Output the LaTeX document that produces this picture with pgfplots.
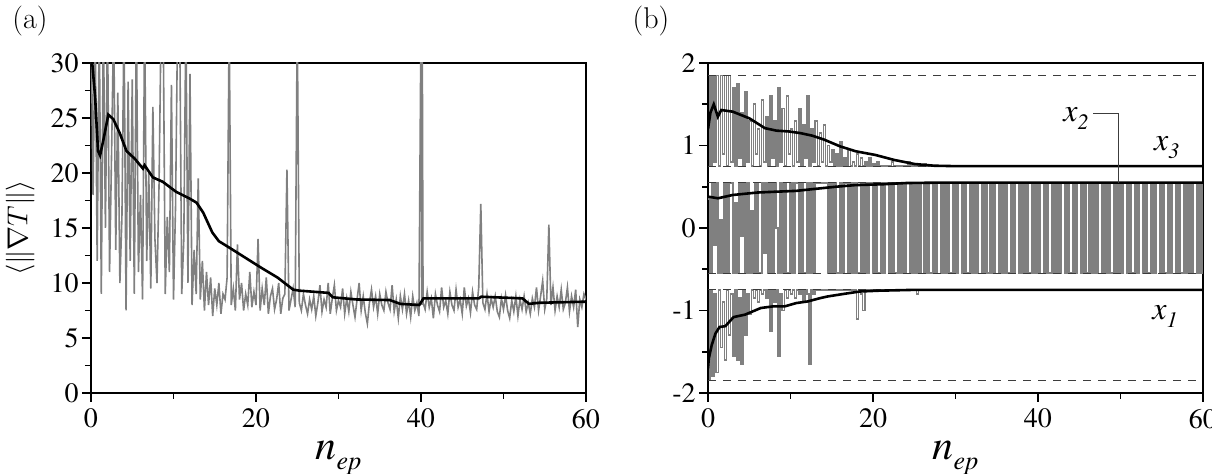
\documentclass[border=0pt]{standalone}
\usepackage{fontspec}
\setmainfont{Liberation Serif}
\newfontfamily\tms{texgyretermes}[Extension=.otf, UprightFont=*-regular, ItalicFont=*-italic, BoldFont=*-bold, BoldItalicFont=*-bolditalic]
\usepackage{pgfplots}
\pgfplotsset{compat=1.18}
\definecolor{lgray}{RGB}{128,128,128}
\definecolor{dgray}{RGB}{60,60,60}
\pgfplotsset{myax/.style={
  scale only axis, width=247.5pt, height=165pt, anchor=south west,
  xmin=0, xmax=60, xtick={0,20,40,60}, minor x tick num=1,
  tick pos=left, tick align=outside,
  axis line style={line width=1.1pt},
  every tick/.style={black, line width=0.8pt},
  major tick length=4.5pt, minor tick length=3pt,
  tick label style={font=\tms\fontsize{14}{16}\selectfont},
  yticklabel style={inner xsep=1.5pt},
  /pgf/number format/assume math mode=true,
  xlabel={\tms\itshape n\raisebox{-0.5ex}{\fontsize{13}{13}\selectfont ep}},
  xlabel style={font=\fontsize{21}{24}\selectfont, at={(axis description cs:0.5,-0.203)}, anchor=base},
}}
\begin{document}
\begin{tikzpicture}[x=1pt,y=1pt]
\path[use as bounding box] (0,0) rectangle (606,237);
\node[font=\fontsize{15}{17}\selectfont] at (15,226.5) {\fontspec{Latin Modern Roman}(a)};
\node[font=\fontsize{15}{17}\selectfont] at (325.5,226.5) {\fontspec{Latin Modern Roman}(b)};
\begin{axis}[myax, at={(45.5pt,40.5pt)},
  ymin=0, ymax=30, ytick={0,5,10,15,20,25,30}, minor y tick num=1,
  ylabel={$\langle\|\nabla T\|\rangle$},
  ylabel style={font=\fontsize{15}{17}\selectfont, at={(axis description cs:-0.143,0.5)}, anchor=center}]
\addplot[lgray, line width=0.8pt] coordinates {(0,35)(0.25,18)(0.5,34)(0.75,12)(1,34)(1.25,9)(1.5,34)(1.75,15)(2,34)(2.25,11)(2.5,22)(2.75,34)(3,13)(3.25,27.3)(3.5,10)(3.75,16)(4,34)(4.25,7.5)(4.5,28.3)(4.75,12)(5,28.5)(5.25,9)(5.5,34)(5.75,11)(6,18)(6.25,8.5)(6.5,34)(6.75,12)(7,20)(7.25,9.5)(7.5,26)(7.75,14)(8,10)(8.25,19)(8.5,34)(8.75,34)(9,9)(9.25,16)(9.5,11)(9.75,28)(10,8.5)(10.25,17)(10.5,34)(10.75,34)(11,9)(11.25,14)(11.5,34)(11.75,10)(12,29)(12.25,8)(12.5,13)(12.75,9)(13,19.5)(13.25,8.5)(13.5,12)(13.75,7.5)(14,11)(14.25,8)(14.5,10.5)(14.75,7)(15,9.5)(15.25,8)(15.5,10)(15.75,7.2)(16,9)(16.25,8.5)(16.5,10.5)(16.75,34)(17,8)(17.25,9.5)(17.5,7.5)(17.75,13.5)(18,8.5)(18.25,10)(18.5,7.5)(18.75,9)(19,8)(19.25,11)(19.5,7.8)(19.75,9.2)(20,8)(20.25,14)(20.5,7.5)(20.75,9.5)(21,8)(21.25,10.5)(21.5,7.2)(21.75,8.8)(22,9.5)(22.25,7.6)(22.5,8.5)(22.75,10)(23,7.2)(23.25,8.6)(23.5,9)(23.75,20.3)(24,7.5)(24.25,8.5)(24.5,9.5)(24.75,7.8)(25,34)(25.25,8.2)(25.5,7.5)(25.75,9)(26,8)(26.25,7.2)(26.5,8.5)(26.75,7.6)(27,8.8)(27.25,7)(27.5,8.2)(27.75,9.8)(28,7.4)(28.25,8.5)(28.5,7.8)(28.75,10)(29,7.2)(29.25,8.6)(29.5,9.8)(29.75,7.5)(30,8.4)(30.25,7.8)(30.5,9.5)(30.75,7.2)(31,8.6)(31.25,7.4)(31.5,9.2)(31.75,8)(32,6.9)(32.25,8.5)(32.5,10)(32.75,7.5)(33,8.8)(33.25,7.3)(33.5,6.3)(33.75,8.2)(34,9.4)(34.25,7.8)(34.5,8.8)(34.75,7.2)(35,9)(35.25,8)(35.5,7.5)(35.75,9.2)(36,8.2)(36.25,7.6)(36.5,9.8)(36.75,7.4)(37,8.5)(37.25,6.8)(37.5,8.8)(37.75,7.6)(38,9)(38.25,7.2)(38.5,8.4)(38.75,6.9)(39,8.8)(39.25,7.5)(39.5,8.2)(39.75,7)(40,34)(40.1,8)(40.15,34)(40.25,8.2)(40.5,7.6)(40.75,9.2)(41,7.8)(41.25,8.6)(41.5,6.8)(41.75,9)(42,8)(42.25,7.4)(42.5,9.6)(42.75,7.8)(43,8.4)(43.25,7.2)(43.5,9.2)(43.75,8)(44,7.5)(44.25,9.4)(44.5,7.8)(44.75,8.5)(45,7.2)(45.25,9.6)(45.5,7.9)(45.75,8.6)(46,7.3)(46.25,9.2)(46.5,8)(46.75,7.6)(47,9.6)(47.25,17.2)(47.5,8.2)(47.75,7.6)(48,9)(48.25,7.4)(48.5,8.6)(48.75,7.8)(49,8.8)(49.25,7.4)(49.5,6.9)(49.75,8.6)(50,7.6)(50.25,8.9)(50.5,7.5)(50.75,6.8)(51,8.4)(51.25,7.4)(51.5,8.8)(51.75,7)(52,8.5)(52.25,7.6)(52.5,8.8)(52.75,7.4)(53,8.2)(53.25,7.2)(53.5,8.6)(53.75,7.8)(54,9.6)(54.25,7.5)(54.5,8.8)(54.75,10.2)(55,7.6)(55.25,8.6)(55.5,15.3)(55.75,8)(56,9.6)(56.25,7.5)(56.5,8.8)(56.75,7.8)(57,9.4)(57.25,7.6)(57.5,8.2)(57.75,9.6)(58,7.4)(58.25,8.8)(58.5,7.8)(58.75,9.4)(59,6)(59.25,8.5)(59.5,7.8)(59.75,9)(60,8.5)};
\addplot[black, line width=1.3pt] coordinates {(0,34)(0.15,30)(0.5,26.9)(0.85,22)(1.1,21.6)(1.5,23)(2.1,25.3)(2.7,24.9)(3.5,23.6)(4.3,22)(5.3,21.3)(6.3,20.4)(6.5,20.7)(7.5,19.6)(8.7,19.2)(10.3,18.3)(11.9,17.7)(12.8,17.3)(13.6,16.4)(14.7,14.6)(15.5,13.8)(16.8,13.2)(18.7,12.3)(20.6,11.4)(22.6,10.5)(24.5,9.4)(25.3,9.3)(28.8,9.1)(29.3,8.7)(32.2,8.5)(36.2,8.45)(37.5,8.1)(39.8,8.0)(40.3,8.6)(44.2,8.6)(47,8.6)(47.3,8.75)(52.3,8.6)(53.1,8.1)(54.3,8.2)(60,8.3)};
\end{axis}
\begin{axis}[myax, at={(354pt,40.5pt)},
  ymin=-2, ymax=2, ytick={-2,-1,0,1,2}, yticklabels={-2,-1,0,1,2}, minor y tick num=1]
\addplot[lgray, line width=1.1pt, const plot] coordinates {(0,0.35)(0.25,-0.55)(0.5,0.55)(0.75,-0.2)(1,0.55)(1.25,-0.55)(1.5,0.1)(1.75,-0.55)(2,0.55)(2.25,-0.55)(2.5,0.55)(2.75,0.55)(3,-0.55)(3.25,0.3)(3.5,-0.55)(3.75,0.55)(4,-0.1)(4.25,0.55)(4.5,-0.55)(4.75,0.55)(5,-0.55)(5.25,0.2)(5.5,-0.55)(5.75,0.55)(6,-0.55)(6.25,-0.55)(6.5,0.55)(6.75,-0.3)(7,0.55)(7.25,-0.55)(7.5,0.55)(7.75,-0.55)(8,0.55)(8.25,0)(8.5,-0.55)(8.75,0.55)(9,-0.55)(9.25,0.55)(9.5,-0.55)(9.75,-0.55)(10,0.55)(10.25,-0.55)(10.5,0.55)(10.75,0.55)(11,-0.55)(11.25,0.55)(11.5,-0.55)(11.75,-0.55)(12,0.55)(12.25,-0.55)(12.5,0.55)(12.75,-0.55)(13,0.55)(14.25,0.55)(14.5,-0.55)
(14.75,.55)(15,-.55)(15.25,.55)(15.5,-.55)(15.75,-.55)(16,.55)(16.25,-.55)(16.5,.55)(16.75,.55)(17,-.55)(17.25,.55)(17.5,-.55)(17.75,.55)(18,-.55)(18.25,-.55)(18.5,.55)(18.75,-.55)(19,.55)(19.25,-.55)(19.5,.55)
(19.75,.55)(20,-.55)(20.25,.55)(20.5,-.55)(20.75,-.55)(21,.55)(21.25,-.55)(21.5,.55)(21.75,.55)(22,-.55)(22.25,.55)(22.5,-.55)(22.75,-.55)(23,.55)(23.25,-.55)(23.5,.55)(23.75,-.55)(24,.55)(24.25,.55)(24.5,-.55)
(24.75,.55)(25,-.55)(25.25,.55)(25.5,-.55)(25.75,.55)(26,.55)(26.25,-.55)(26.5,.55)(26.75,-.55)(27,-.55)(27.25,.55)(27.5,-.55)(27.75,.55)(28,.55)(28.25,-.55)(28.5,.55)(28.75,-.55)(29,.55)(29.25,-.55)(29.5,-.55)
(29.75,.55)(30,-.55)(30.25,.55)(30.5,.55)(30.75,-.55)(31,.55)(31.25,-.55)(31.5,-.55)(31.75,.55)(32,-.55)(32.25,.55)(32.5,-.55)(32.75,.55)(33,.55)(33.25,-.55)(33.5,.55)(33.75,-.55)(34,-.55)(34.25,.55)(34.5,-.55)
(34.75,.55)(35,.55)(35.25,-.55)(35.5,.55)(35.75,-.55)(36,.55)(36.25,-.55)(36.5,-.55)(36.75,.55)(37,-.55)(37.25,.55)(37.5,.55)(37.75,-.55)(38,.55)(38.25,-.55)(38.5,.55)(38.75,-.55)(39,-.55)(39.25,.55)(39.5,-.55)
(39.75,.55)(40,-.55)(40.25,.55)(40.5,.55)(40.75,-.55)(41,.55)(41.25,-.55)(41.5,-.55)(41.75,.55)(42,-.55)(42.25,.55)(42.5,-.55)(42.75,.55)(43,.55)(43.25,-.55)(43.5,.55)(43.75,-.55)(44,-.55)(44.25,.55)(44.5,-.55)
(44.75,.55)(45,.55)(45.25,-.55)(45.5,.55)(45.75,-.55)(46,-.55)(46.25,.55)(46.5,-.55)(46.75,.55)(47,-.55)(47.25,.55)(47.5,.55)(47.75,-.55)(48,.55)(48.25,-.55)(48.5,.55)(48.75,-.55)(49,-.55)(49.25,.55)(49.5,-.55)
(49.75,.55)(50,-.55)(50.25,.55)(50.5,.55)(50.75,-.55)(51,.55)(51.25,-.55)(51.5,-.55)(51.75,.55)(52,-.55)(52.25,.55)(52.5,.55)(52.75,-.55)(53,.55)(53.25,-.55)(53.5,-.55)(53.75,.55)(54,-.55)(54.25,.55)(54.5,.55)
(54.75,-.55)(55,.55)(55.25,-.55)(55.5,-.55)(55.75,.55)(56,-.55)(56.25,.55)(56.5,.55)(56.75,-.55)(57,.55)(57.25,-.55)(57.5,-.55)(57.75,.55)(58,-.55)(58.25,.55)(58.5,-.55)(58.75,.55)(59,.55)(59.25,-.55)(59.5,.55)(59.75,-.55)(60,.55)};
\addplot[lgray, line width=0.8pt, const plot] coordinates {(0,1.85)(0.25,0.75)(0.5,1.85)(0.75,0.8)(1,1.85)(1.25,0.75)(1.5,1.85)(1.75,0.9)(2,1.85)(2.25,0.75)(2.5,1.85)(2.75,0.8)(3,1.7)(3.25,0.75)(3.5,1.75)(3.75,0.85)(4,1.4)(4.25,0.75)(4.5,1.65)(4.75,0.8)(5,1.3)(5.25,0.75)(5.5,1.5)(5.75,0.9)(6,1.2)(6.25,0.75)(6.5,1.55)(6.75,0.8)(7,1.35)(7.25,0.75)(7.5,1.6)(7.75,0.85)(8,1.3)(8.25,0.75)(8.5,1.7)(8.75,0.8)(9,1.45)(9.25,0.75)(9.5,1.6)(9.75,0.9)(10,1.2)(10.25,0.75)(10.5,1.3)(10.75,0.8)(11,1.45)(11.25,0.75)(11.5,1.25)(11.75,0.85)(12,1.6)(12.25,0.75)(12.5,1.2)(12.75,0.8)(13,1.3)(13.25,0.75)(13.5,1.15)(13.75,0.8)(14,1.25)(14.25,0.75)(14.5,1)(14.75,0.8)(15,0.95)(15.25,0.75)(15.5,0.9)(15.75,0.75)(16,1.05)(16.25,0.75)(16.5,0.85)(16.75,0.75)(17,0.95)(17.25,0.75)(17.5,0.8)(17.75,0.75)(18,0.9)(18.25,0.75)(18.5,0.85)(18.75,0.75)(19,0.8)(19.25,0.75)(19.5,0.85)(19.75,0.75)(20,0.78)(20.25,0.75)(20.5,0.8)(20.75,0.75)(22,0.75)(22.25,0.8)(22.5,0.75)(24,0.75)(24.25,0.8)(24.5,0.75)(26,0.75)(26.25,0.78)(26.5,0.75)(60,0.75)};
\addplot[lgray, line width=0.8pt, const plot] coordinates {(0,-1.85)(0.25,-0.75)(0.5,-1.8)(0.75,-0.8)(1,-1.75)(1.25,-0.75)(1.5,-1.45)(1.75,-0.9)(2,-1.6)(2.25,-0.75)(2.5,-1.3)(2.75,-0.8)(3,-1.55)(3.25,-0.75)(3.5,-1.6)(3.75,-0.85)(4,-1.65)(4.25,-0.75)(4.5,-1.3)(4.75,-0.8)(5,-1.05)(5.25,-0.75)(5.5,-0.85)(5.75,-0.75)(6,-0.9)(6.25,-0.75)(6.5,-0.8)(6.75,-0.75)(7,-0.85)(7.25,-0.75)(7.5,-1.25)(7.75,-0.75)(8,-0.9)(8.25,-0.75)(8.5,-1.55)(8.75,-0.8)(9,-1)(9.25,-0.75)(9.5,-0.85)(9.75,-0.75)(10,-0.8)(10.25,-0.75)(10.5,-0.85)(10.75,-0.75)(11,-0.8)(11.25,-0.75)(11.5,-0.9)(11.75,-0.75)(12,-0.8)(12.25,-1.65)(12.5,-0.75)(12.75,-0.8)(13,-0.75)(17.75,-0.75)(18,-1.1)(18.25,-0.75)(18.5,-0.8)(18.75,-1)(19,-0.75)(25,-0.75)(25.25,-0.8)(25.5,-0.75)(60,-0.75)};
\addplot[dgray, line width=0.6pt, dash pattern=on 4pt off 3.5pt] coordinates {(0,1.85)(60,1.85)};
\addplot[dgray, line width=0.6pt, dash pattern=on 4pt off 3.5pt] coordinates {(0,0.75)(60,0.75)};
\addplot[dgray, line width=0.6pt, dash pattern=on 4pt off 3.5pt] coordinates {(0,0.55)(60,0.55)};
\addplot[dgray, line width=0.6pt, dash pattern=on 4pt off 3.5pt] coordinates {(0,-0.55)(60,-0.55)};
\addplot[dgray, line width=0.6pt, dash pattern=on 4pt off 3.5pt] coordinates {(0,-0.75)(60,-0.75)};
\addplot[dgray, line width=0.6pt, dash pattern=on 4pt off 3.5pt] coordinates {(0,-1.85)(60,-1.85)};
\addplot[black, line width=1.3pt] coordinates {(0,1.2)(0.3,1.4)(0.7,1.5)(1.2,1.35)(1.6,1.43)(3,1.41)(5,1.33)(6.9,1.21)(8.3,1.18)(9.8,1.17)(11.2,1.15)(12.6,1.12)(14.1,1.07)(16,0.99)(17.9,0.93)(20.3,0.885)(22.6,0.824)(25,0.776)(27.4,0.755)(29.8,0.75)(60,0.75)};
\addplot[black, line width=1.3pt] coordinates {(0,0.38)(1.2,0.36)(3,0.40)(6,0.43)(8.3,0.44)(10.7,0.45)(12.6,0.47)(15.5,0.50)(17.9,0.52)(21.2,0.53)(24,0.545)(28,0.55)(60,0.55)};
\addplot[black, line width=1.3pt] coordinates {(0,-1.7)(0.1,-1.58)(0.45,-1.42)(0.9,-1.28)(1.4,-1.2)(2.1,-1.19)(3.1,-1.08)(4.5,-1.05)(6.4,-0.97)(7.9,-0.95)(9.3,-0.95)(10.7,-0.91)(12.1,-0.89)(13.6,-0.85)(14.5,-0.83)(16.4,-0.8)(18.4,-0.77)(20.7,-0.76)(25,-0.75)(60,-0.75)};
\draw[dgray, line width=0.6pt] (axis cs:46.7,1.39) -| (axis cs:49.8,0.55);
\node[font=\tms\fontsize{16}{18}\selectfont] at (axis cs:44.6,1.33) {\textit{x}\raisebox{-0.55ex}{\fontsize{11}{11}\selectfont\textit{2}}};
\node[font=\tms\fontsize{16}{18}\selectfont] at (axis cs:55.6,0.98) {\textit{x}\raisebox{-0.55ex}{\fontsize{11}{11}\selectfont\textit{3}}};
\node[font=\tms\fontsize{16}{18}\selectfont] at (axis cs:55.4,-1.07) {\textit{x}\raisebox{-0.55ex}{\fontsize{11}{11}\selectfont\textit{1}}};
\end{axis}
\end{tikzpicture}
\end{document}
